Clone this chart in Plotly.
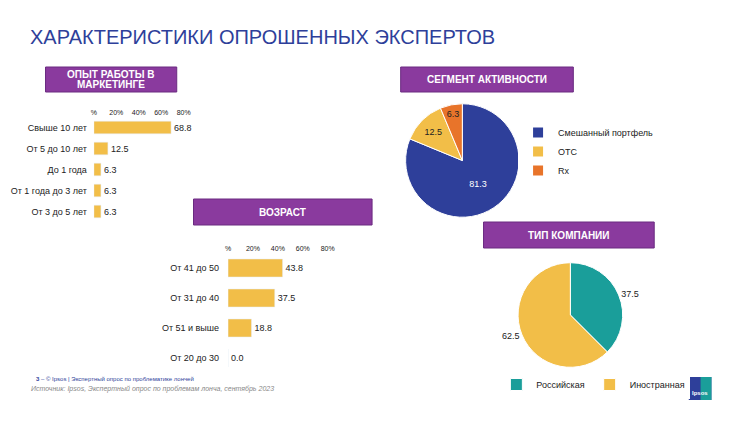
import plotly.graph_objects as go

OFF = 8
W, H = 750 - OFF, 422 - OFF
exp_cats = ["Свыше 10 лет", "От 5 до 10 лет", "До 1 года", "От 1 года до 3 лет", "От 3 до 5 лет"]
exp_vals = [68.8, 12.5, 6.3, 6.3, 6.3]
age_cats = ["От 41 до 50", "От 31 до 40", "От 51 и выше", "От 20 до 30"]
age_vals = [43.8, 37.5, 18.8, 0.0]
seg_labels = ["Смешанный портфель", "OTC", "Rx"]
seg_vals = [81.3, 12.5, 6.3]
comp_labels = ["Российская", "Иностранная"]
comp_vals = [37.5, 62.5]
tick_vals = [0, 20, 40, 60, 80]
tick_text = ["%", "20%", "40%", "60%", "80%"]

BLUE = "#2e3f9a"; YEL = "#f2be48"; ORG = "#e8742a"; TEAL = "#1a9e9a"; PUR = "#8a3a9e"
FONT = "Liberation Sans"

def px(x): return (x - OFF) / W
def py(y): return 1 - (y - OFF) / H

fig = go.Figure()
fig.add_trace(go.Bar(y=exp_cats, x=exp_vals, orientation="h", marker_color=YEL,
                     text=[f"{v:.1f}" for v in exp_vals], textposition="outside",
                     textfont=dict(size=9, color="#222"), width=0.6, cliponaxis=False,
                     xaxis="x", yaxis="y", showlegend=False))
fig.add_trace(go.Bar(y=age_cats, x=age_vals, orientation="h", marker_color=YEL,
                     text=[f"{v:.1f}" for v in age_vals], textposition="outside",
                     textfont=dict(size=9, color="#222"), width=0.6, cliponaxis=False,
                     xaxis="x2", yaxis="y2", showlegend=False))
fig.add_trace(go.Pie(labels=seg_labels, values=seg_vals, sort=False, direction="clockwise",
                     marker=dict(colors=[BLUE, YEL, ORG], line=dict(color="white", width=1)),
                     texttemplate="%{value}", textposition="inside",
                     textfont=dict(size=9, color=["white", "#222", "#222"]),
                     domain=dict(x=[px(408), px(523)], y=[py(218), py(103)]),
                     legend="legend"))
fig.add_trace(go.Pie(labels=comp_labels, values=comp_vals, sort=False, direction="clockwise",
                     marker=dict(colors=[TEAL, YEL], line=dict(color="white", width=1)),
                     texttemplate="%{value}", textposition="outside",
                     textfont=dict(size=9, color="#222"),
                     domain=dict(x=[px(522), px(628)], y=[py(368), py(262)]),
                     legend="legend2"))

ax = dict(range=[0, 80], tickvals=tick_vals, ticktext=tick_text, side="top",
          showgrid=False, zeroline=False, showline=False, tickfont=dict(size=7, color="#222"), ticks="")
fig.update_layout(
    width=W, height=H, margin=dict(l=0, r=0, t=0, b=0),
    paper_bgcolor="white", plot_bgcolor="white", font=dict(family=FONT, color="#222"),
    xaxis=dict(domain=[px(92), px(183)], anchor="y", **ax),
    yaxis=dict(domain=[py(222), py(117)], anchor="x", autorange="reversed", tickfont=dict(size=9),
               showgrid=False, ticks="", ticklabelstandoff=6),
    xaxis2=dict(domain=[px(228), px(329)], anchor="y2", **ax),
    yaxis2=dict(domain=[py(373), py(253)], anchor="x2", autorange="reversed", tickfont=dict(size=9),
                showgrid=False, ticks="", ticklabelstandoff=8),
    bargap=0.4,
    legend=dict(x=px(522), y=py(118), xanchor="left", yanchor="top", font=dict(size=9),
                itemsizing="constant"),
    legend2=dict(x=px(500), y=py(370), xanchor="left", yanchor="top", orientation="h", font=dict(size=9)),
)

fig.add_annotation(x=px(25), y=py(37), xref="paper", yref="paper", xanchor="left", yanchor="middle",
                   text="ХАРАКТЕРИСТИКИ ОПРОШЕННЫХ ЭКСПЕРТОВ", showarrow=False,
                   font=dict(size=20, color=BLUE))
boxes = [(43, 67, 176, 92, ["ОПЫТ РАБОТЫ В", "МАРКЕТИНГЕ"]), (193, 199, 374, 225, ["ВОЗРАСТ"]),
         (403, 67, 578, 92, ["СЕГМЕНТ АКТИВНОСТИ"]), (487, 222, 660, 248, ["ТИП КОМПАНИИ"])]
for x0, y0, x1, y1, lines in boxes:
    fig.add_shape(type="rect", xref="paper", yref="paper", x0=px(x0), x1=px(x1), y0=py(y1), y1=py(y0),
                  fillcolor=PUR, line=dict(color="#6a2a80", width=1), layer="below")
    n = len(lines)
    for i, t in enumerate(lines):
        yc = (y0 + y1) / 2 + (i - (n - 1) / 2) * 11
        fig.add_annotation(x=px((x0 + x1) / 2), y=py(yc), xref="paper", yref="paper",
                           xanchor="center", yanchor="middle",
                           text=f"<b>{t}</b>", showarrow=False, font=dict(size=10, color="white"))
fig.add_annotation(x=px(31), y=py(384), xref="paper", yref="paper", xanchor="left", showarrow=False,
                   text="<b>3</b> – © Ipsos | Экспертный опрос по проблематике лончей",
                   font=dict(size=6, color="#2e3f9a"))
fig.add_annotation(x=px(26), y=py(395), xref="paper", yref="paper", xanchor="left", showarrow=False,
                   text="<i>Источник: Ipsos, Экспертный опрос по проблемам лонча, сентябрь 2023</i>",
                   font=dict(size=7, color="#888"))
fig.add_shape(type="rect", xref="paper", yref="paper", x0=px(695), x1=px(718), y0=py(400), y1=py(377),
              fillcolor=BLUE, line=dict(width=0))
fig.add_shape(type="rect", xref="paper", yref="paper", x0=px(707), x1=px(718), y0=py(400), y1=py(377),
              fillcolor=TEAL, line=dict(width=0))
fig.add_annotation(x=px(706.5), y=py(393), xref="paper", yref="paper", showarrow=False,
                   xanchor="center", yanchor="middle", borderpad=0,
                   text="<b>Ipsos</b>", font=dict(size=6, color="white"))
fig.write_html("out.html")
